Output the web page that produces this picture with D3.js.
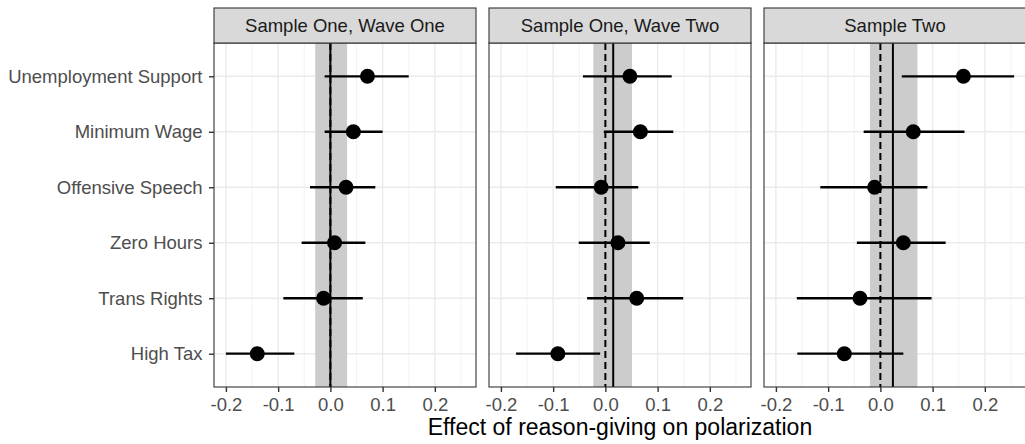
<!DOCTYPE html>
<head>
  <meta charset="utf-8">
  <script src="https://cdn.jsdelivr.net/npm/d3@7"></script>
  <style>
    body { margin:0; background:#fff; }
    svg { display:block; font-family:"Liberation Sans", Arial, Helvetica, sans-serif; }
  </style>
</head>

<body>
  <script>
    // panels (facets) and the issues on the y axis
    var panels = ["Sample One, Wave One", "Sample One, Wave Two", "Sample Two"];
    var issues = ["Unemployment Support", "Minimum Wage", "Offensive Speech", "Zero Hours", "Trans Rights", "High Tax"];

    // point estimates, one array per panel, same order as issues
    var estimate = [
      [0.071, 0.044, 0.030, 0.008, -0.013, -0.140],
      [0.047, 0.067, -0.008, 0.024, 0.060, -0.091],
      [0.159, 0.063, -0.011, 0.044, -0.039, -0.069]
    ];
    var lower = [
      [-0.011, -0.011, -0.039, -0.055, -0.090, -0.200],
      [-0.043, -0.003, -0.095, -0.051, -0.035, -0.171],
      [0.041, -0.032, -0.115, -0.045, -0.160, -0.159]
    ];
    var upper = [
      [0.150, 0.100, 0.086, 0.067, 0.062, -0.069],
      [0.127, 0.130, 0.063, 0.085, 0.149, -0.010],
      [0.256, 0.161, 0.090, 0.125, 0.098, 0.044]
    ];

    // pooled effect per panel with its interval (grey band)
    var pooled = [0.0, 0.015, 0.024];
    var pooledLow = [-0.029, -0.023, -0.020];
    var pooledHigh = [0.032, 0.051, 0.071];

    var xTicks = [-0.2, -0.1, 0.0, 0.1, 0.2];
    var xMinor = [-0.15, -0.05, 0.05, 0.15, 0.25];

    var width = 1025, height = 444;
    var plotLeft = 214, plotTop = 43, plotBottom = 387;
    var panelW = 262, gap = 13, stripH = 35;
    var fs = 18.5;

    var svg = d3.select("body").append("svg")
      .attr("width", width)
      .attr("height", height);

    // data spans -0.2 .. 0.256, ggplot adds 5% each side
    var x = d3.scaleLinear()
      .domain([-0.2228, 0.2788])
      .range([0, panelW]);

    var y = d3.scalePoint()
      .domain(issues)
      .range([plotTop, plotBottom])
      .padding(0.6);

    panels.forEach(function(name, i) {
      var g = svg.append("g")
        .attr("transform", "translate(" + (plotLeft + i * (panelW + gap)) + ",0)");

      // panel background + grid
      g.append("rect")
        .attr("x", 0).attr("y", plotTop)
        .attr("width", panelW).attr("height", plotBottom - plotTop)
        .attr("fill", "#fff");

      g.selectAll(".minor").data(xMinor).enter().append("line")
        .attr("x1", function(d) { return x(d); })
        .attr("x2", function(d) { return x(d); })
        .attr("y1", plotTop).attr("y2", plotBottom)
        .attr("stroke", "#f0f0f0").attr("stroke-width", 0.8);

      g.selectAll(".major").data(xTicks).enter().append("line")
        .attr("x1", function(d) { return x(d); })
        .attr("x2", function(d) { return x(d); })
        .attr("y1", plotTop).attr("y2", plotBottom)
        .attr("stroke", "#ebebeb").attr("stroke-width", 1.4);

      g.selectAll(".hgrid").data(issues).enter().append("line")
        .attr("x1", 0).attr("x2", panelW)
        .attr("y1", function(d) { return y(d); })
        .attr("y2", function(d) { return y(d); })
        .attr("stroke", "#ebebeb").attr("stroke-width", 1.4);

      // band for the pooled estimate
      g.append("rect")
        .attr("x", x(pooledLow[i]))
        .attr("width", x(pooledHigh[i]) - x(pooledLow[i]))
        .attr("y", plotTop).attr("height", plotBottom - plotTop)
        .attr("fill", "#cccccc");

      // zero reference (dashed) and pooled effect (solid)
      g.append("line")
        .attr("x1", x(0)).attr("x2", x(0))
        .attr("y1", plotTop).attr("y2", plotBottom)
        .attr("stroke", "#000").attr("stroke-width", 2)
        .attr("stroke-dasharray", "7,4");

      g.append("line")
        .attr("x1", x(pooled[i])).attr("x2", x(pooled[i]))
        .attr("y1", plotTop).attr("y2", plotBottom)
        .attr("stroke", "#000").attr("stroke-width", 2);

      // error bars + points
      g.selectAll(".ci").data(issues).enter().append("line")
        .attr("x1", function(d, j) { return x(lower[i][j]); })
        .attr("x2", function(d, j) { return x(upper[i][j]); })
        .attr("y1", function(d) { return y(d); })
        .attr("y2", function(d) { return y(d); })
        .attr("stroke", "#000").attr("stroke-width", 2.3);

      g.selectAll(".pt").data(issues).enter().append("circle")
        .attr("cx", function(d, j) { return x(estimate[i][j]); })
        .attr("cy", function(d) { return y(d); })
        .attr("r", 7.5)
        .attr("fill", "#000");

      // panel border
      g.append("rect")
        .attr("x", 0).attr("y", plotTop)
        .attr("width", panelW).attr("height", plotBottom - plotTop)
        .attr("fill", "none").attr("stroke", "#333").attr("stroke-width", 1.1);

      // strip
      g.append("rect")
        .attr("x", 0).attr("y", plotTop - stripH)
        .attr("width", panelW).attr("height", stripH)
        .attr("fill", "#d9d9d9").attr("stroke", "#333").attr("stroke-width", 1.1);

      g.append("text")
        .attr("x", panelW / 2).attr("y", plotTop - stripH / 2)
        .attr("dy", "0.35em")
        .attr("text-anchor", "middle")
        .attr("font-size", fs)
        .attr("fill", "#1a1a1a")
        .text(name);

      // x axis
      var ax = g.append("g")
        .attr("transform", "translate(0," + plotBottom + ")")
        .call(d3.axisBottom(x).tickValues(xTicks).tickSize(5).tickPadding(6));
      ax.select(".domain").remove();
      ax.selectAll("line").attr("stroke", "#333").attr("stroke-width", 1.4);
      ax.selectAll("text").attr("font-size", fs).attr("fill", "#4d4d4d").attr("font-family", null)
        .text(function(d) { return d3.format(".1f")(d).replace("−", "-"); });

      // y axis only on the first panel
      if (i === 0) {
        var ay = g.append("g")
          .call(d3.axisLeft(y).tickSize(5).tickPadding(6.5));
        ay.select(".domain").remove();
        ay.selectAll("line").attr("stroke", "#333").attr("stroke-width", 1.4);
        ay.selectAll("text").attr("font-size", fs).attr("fill", "#4d4d4d").attr("font-family", null);
      }
    });

    svg.append("text")
      .attr("x", plotLeft + (3 * panelW + 2 * gap) / 2)
      .attr("y", 435)
      .attr("text-anchor", "middle")
      .attr("font-size", 23)
      .attr("fill", "#000")
      .text("Effect of reason-giving on polarization");
  </script>
</body>
</html>
